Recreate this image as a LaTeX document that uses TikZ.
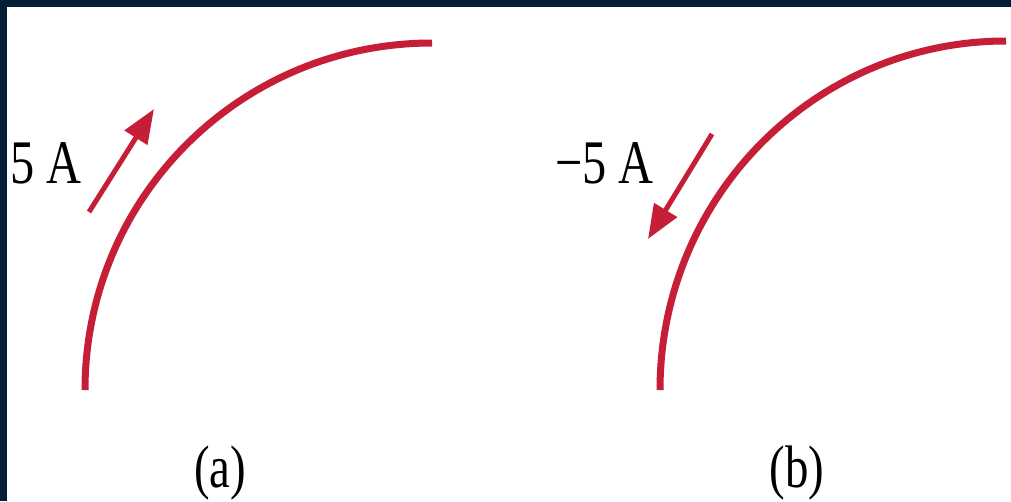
\documentclass[tikz,border=0pt]{standalone}
\usepackage{fontspec}
\setmainfont{Liberation Serif}
\usetikzlibrary{arrows.meta}
\definecolor{wirered}{RGB}{198,30,55}
\definecolor{navy}{RGB}{4,30,56}
\tikzset{
  wire/.style={draw=wirered,line width=7pt},
  current/.style={draw=wirered,fill=wirered,line width=5pt,-{Triangle[length=34pt,width=26pt]}},
  lbl/.style={inner sep=0pt,anchor=base west,font=\fontsize{62}{64}\selectfont},
  captext/.style={inner sep=0pt,anchor=base,font=\fontsize{60}{62}\selectfont}
}
\begin{document}
\begin{tikzpicture}[x=1pt,y=-1pt]
\useasboundingbox (0,0) rectangle (1011,501);
\clip (0,0) rectangle (1011,501);
\fill[navy] (0,0) rectangle (1011,501);
\fill[white] (7,7) rectangle (1011,501);
% curve (a)
\coordinate (a1) at (85,390);
\coordinate (a2) at (432,43);
\draw[wire] (a1) .. controls (85,198) and (240,43) .. (a2);
% curve (b)
\coordinate (b1) at (660,390);
\coordinate (b2) at (1006,41);
\draw[wire] (b1) .. controls (660,197) and (815,41) .. (b2);
% arrows
\coordinate (as) at (89,212);
\coordinate (at) at (154,109);
\draw[current] (as) -- (at);
\coordinate (bs) at (712,134);
\coordinate (bt) at (648,239);
\draw[current] (bs) -- (bt);
% labels
\node[lbl] (la) at (10,183) {\scalebox{0.78}[1]{5 A}};
\node[lbl] (lb) at (555,183) {\scalebox{0.78}[1]{−5 A}};
\node[captext] (ca) at (220,487) {\scalebox{0.78}[1]{(a)}};
\node[captext] (cb) at (797,487) {\scalebox{0.78}[1]{(b)}};
\end{tikzpicture}
\end{document}
